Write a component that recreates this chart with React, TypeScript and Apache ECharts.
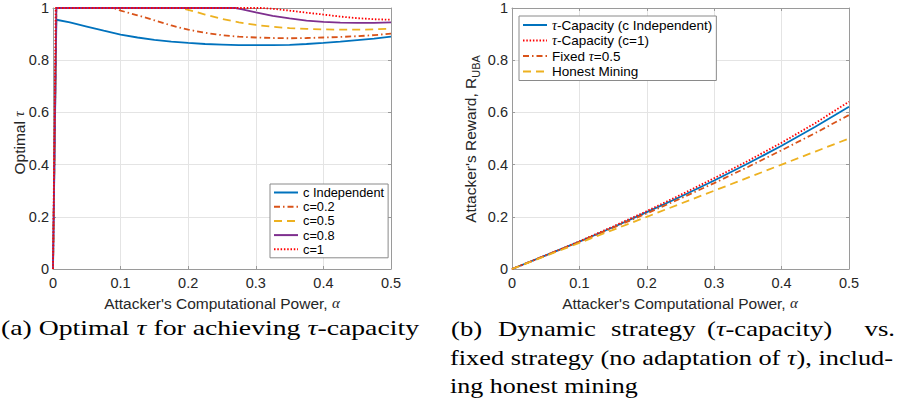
import React, { useEffect, useRef } from 'react';
import * as echarts from 'echarts';

// ---------- Left chart: optimal tau ----------
const indepX = [0, 0.005, 0.025, 0.05, 0.075, 0.1, 0.125, 0.15, 0.175, 0.2, 0.225, 0.25, 0.275, 0.3, 0.325, 0.35, 0.375, 0.4, 0.425, 0.45, 0.475, 0.5];
const indepY = [0, 0.955, 0.945, 0.929, 0.913, 0.898, 0.887, 0.878, 0.871, 0.866, 0.862, 0.86, 0.858, 0.858, 0.858, 0.859, 0.862, 0.866, 0.871, 0.877, 0.883, 0.89];

const c02X = [0, 0.005, 0.09, 0.1, 0.125, 0.15, 0.175, 0.2, 0.225, 0.25, 0.275, 0.3, 0.325, 0.35, 0.375, 0.4, 0.425, 0.45, 0.475, 0.5];
const c02Y = [0, 1, 1, 0.99, 0.972, 0.953, 0.933, 0.917, 0.905, 0.896, 0.89, 0.887, 0.885, 0.884, 0.885, 0.887, 0.889, 0.892, 0.896, 0.902];

const c05X = [0, 0.005, 0.19, 0.2, 0.225, 0.25, 0.275, 0.3, 0.325, 0.35, 0.375, 0.4, 0.425, 0.45, 0.475, 0.5];
const c05Y = [0, 1, 1, 0.993, 0.975, 0.958, 0.945, 0.935, 0.928, 0.923, 0.92, 0.918, 0.917, 0.917, 0.918, 0.921];

const c08X = [0, 0.005, 0.27, 0.28, 0.3, 0.325, 0.35, 0.375, 0.4, 0.425, 0.45, 0.475, 0.5];
const c08Y = [0, 1, 1, 0.995, 0.983, 0.97, 0.96, 0.952, 0.947, 0.944, 0.943, 0.943, 0.945];

const c1X = [0, 0.004, 0.31, 0.325, 0.35, 0.375, 0.4, 0.425, 0.45, 0.475, 0.5];
const c1Y = [0, 1, 1, 0.997, 0.99, 0.982, 0.975, 0.967, 0.961, 0.957, 0.955];

const leftNames = ['c Independent', 'c=0.2', 'c=0.5', 'c=0.8', 'c=1'];

// ---------- Right chart: attacker's reward ----------
const alphaR = [0, 0.05, 0.1, 0.15, 0.2, 0.25, 0.3, 0.35, 0.4, 0.45, 0.5];
const rewardCapInd = [0, 0.052, 0.105, 0.16, 0.218, 0.277, 0.339, 0.404, 0.472, 0.545, 0.622];
const rewardCapC1 = [0, 0.052, 0.106, 0.163, 0.222, 0.284, 0.348, 0.414, 0.484, 0.559, 0.641];
const rewardFixed = [0, 0.052, 0.104, 0.158, 0.213, 0.27, 0.329, 0.391, 0.455, 0.521, 0.59];
const rewardHonest = [0, 0.05, 0.1, 0.15, 0.2, 0.25, 0.3, 0.35, 0.4, 0.45, 0.5];

const rightNames = ['τ-Capacity (c Independent)', 'τ-Capacity (c=1)', 'Fixed τ=0.5', 'Honest Mining'];

const BLUE = '#0072BD';
const ORANGE = '#D95319';
const YELLOW = '#EDB120';
const PURPLE = '#7E2F8E';
const RED = '#FF0000';

const SANS = 'Liberation Sans, Arial, Helvetica, sans-serif';
const SERIF = 'Liberation Serif, Times New Roman, serif';
const AXIS_COLOR = '#9a9a9a';
const TEXT_COLOR = '#262626';
const CAP_SIZE = 22;

const pairs = (xs: number[], ys: number[]) => xs.map((x, i) => [x, ys[i]]);

const fmt = (v: number) => (v === 0 ? '0' : v === 1 ? '1' : v.toFixed(1));

let measureCtx: CanvasRenderingContext2D | null = null;
function measure(segs: string[]) {
  if (!measureCtx) measureCtx = document.createElement('canvas').getContext('2d');
  let w = 0;
  for (const s of segs) {
    const italic = s.startsWith('{i|');
    const t = italic ? s.slice(3, -1) : s;
    measureCtx!.font = `${italic ? 'italic ' : ''}${CAP_SIZE}px ${SERIF}`;
    w += measureCtx!.measureText(t).width;
  }
  return w;
}

function makeAxes(gridIndex: number) {
  const common = {
    gridIndex,
    type: 'value' as const,
    axisLine: { show: true, onZero: false, lineStyle: { color: AXIS_COLOR, width: 1 } },
    axisTick: { show: true, inside: true, length: 3, lineStyle: { color: AXIS_COLOR } },
  };
  const xBottom = {
    ...common,
    position: 'bottom',
    min: 0, max: 0.5, interval: 0.1,
    axisLabel: { show: true, margin: 6, color: TEXT_COLOR, fontFamily: SANS, fontSize: 14.5, formatter: fmt },
    splitLine: { show: true, lineStyle: { color: '#e4e4e4', width: 1 } },
  };
  const xTop = {
    ...common,
    position: 'top',
    min: 0, max: 0.5, interval: 0.1,
    axisLabel: { show: false },
    splitLine: { show: false },
  };
  const yLeft = {
    ...common,
    position: 'left',
    min: 0, max: 1, interval: 0.2,
    axisLabel: { show: true, margin: 4, color: TEXT_COLOR, fontFamily: SANS, fontSize: 14.5, formatter: fmt },
    splitLine: { show: true, lineStyle: { color: '#e4e4e4', width: 1 } },
  };
  const yRight = {
    ...common,
    position: 'right',
    min: 0, max: 1, interval: 0.2,
    axisLabel: { show: false },
    splitLine: { show: false },
  };
  return { x: [xBottom, xTop], y: [yLeft, yRight] };
}

function lineSeries(name: string, data: number[][], color: string, type: any, xi: number, yi: number, width = 1.8) {
  return {
    type: 'line',
    name,
    data,
    xAxisIndex: xi,
    yAxisIndex: yi,
    showSymbol: false,
    symbol: 'none',
    clip: false,
    lineStyle: { color, width, type },
    itemStyle: { color },
    emphasis: { disabled: true },
  };
}

const DASHDOT = [6, 3, 1.5, 3];
const DASHED = [8, 5];
const DOTTED = [1.5, 1.8];

export default function App() {
  const ref = useRef<HTMLDivElement>(null);

  useEffect(() => {
    if (!ref.current) return;
    const chart = echarts.init(ref.current, undefined, { renderer: 'svg' });
    const a0 = makeAxes(0);
    const a1 = makeAxes(1);

    const legendText = (size: number) => ({
      fontFamily: SANS,
      fontSize: size,
      color: '#000',
      rich: {
        i: { fontFamily: SERIF, fontStyle: 'italic', fontSize: size + 0.5, color: '#000' },
      },
    });

    const italicRich = (size: number, color = '#000') => ({
      i: { fontFamily: SERIF, fontStyle: 'italic', fontSize: size, color },
    });

    // caption lines (segments; {i|..} = italic math)
    const capA = ['(a) Optimal ', '{i|τ}', ' for achieving ', '{i|τ}', '-capacity'];
    const capB2 = ['fixed strategy (no adaptation of ', '{i|τ}', '), includ-'];
    const capB3 = ['ing honest mining'];
    const sA = 418 / measure(capA);
    const sB2 = 443 / measure(capB2);
    const sB3 = 188 / measure(capB3);
    const sW = (sA + sB2 + sB3) / 3;

    const capText = (x: number, y: number, segs: string[], scale: number, align = 'left') => ({
      type: 'text', x, y, scaleX: scale,
      style: {
        text: segs.join(''), fontFamily: SERIF, fontSize: CAP_SIZE, fill: '#000',
        align, verticalAlign: 'middle', rich: italicRich(CAP_SIZE),
      },
    });

    const L1 = 328, L2 = 357, L3 = 386;

    const option: any = {
      animation: false,
      backgroundColor: '#ffffff',
      grid: [
        { left: 53, right: 898 - 391, top: 8, bottom: 407 - 269, containLabel: false },
        { left: 512, right: 898 - 849, top: 8, bottom: 407 - 269, containLabel: false },
      ],
      xAxis: [...a0.x, ...a1.x],
      yAxis: [...a0.y, ...a1.y],
      legend: [
        {
          data: leftNames,
          orient: 'vertical',
          left: 270,
          top: 184,
          itemWidth: 24,
          itemHeight: 14,
          itemGap: 1.2,
          padding: [2, 4, 2, 3],
          borderColor: '#8a8a8a',
          borderWidth: 1,
          backgroundColor: '#fff',
          itemStyle: { opacity: 0 },
          textStyle: legendText(12.8),
          selectedMode: false,
        },
        {
          data: rightNames,
          orient: 'vertical',
          left: 519,
          top: 16,
          itemWidth: 24,
          itemHeight: 14,
          itemGap: 1.5,
          padding: [2, 4, 2, 3],
          borderColor: '#8a8a8a',
          borderWidth: 1,
          backgroundColor: '#fff',
          itemStyle: { opacity: 0 },
          textStyle: legendText(13.5),
          selectedMode: false,
          formatter: (name: string) => name.replace('τ', '{i|τ}'),
        },
      ],
      series: [
        lineSeries(leftNames[0], pairs(indepX, indepY), BLUE, 'solid', 0, 0),
        lineSeries(leftNames[1], pairs(c02X, c02Y), ORANGE, DASHDOT, 0, 0),
        lineSeries(leftNames[2], pairs(c05X, c05Y), YELLOW, DASHED, 0, 0),
        lineSeries(leftNames[3], pairs(c08X, c08Y), PURPLE, 'solid', 0, 0),
        lineSeries(leftNames[4], pairs(c1X, c1Y), RED, DOTTED, 0, 0),
        lineSeries(rightNames[0], pairs(alphaR, rewardCapInd), BLUE, 'solid', 2, 2),
        lineSeries(rightNames[1], pairs(alphaR, rewardCapC1), RED, DOTTED, 2, 2),
        lineSeries(rightNames[2], pairs(alphaR, rewardFixed), ORANGE, DASHDOT, 2, 2),
        lineSeries(rightNames[3], pairs(alphaR, rewardHonest), YELLOW, DASHED, 2, 2),
      ],
      graphic: [
        // y-axis titles
        {
          type: 'text', x: 19, y: 143, rotation: Math.PI / 2,
          style: {
            text: 'Optimal {i|τ}', fontFamily: SANS, fontSize: 15.5, fill: TEXT_COLOR,
            align: 'center', verticalAlign: 'middle', rich: italicRich(15, TEXT_COLOR),
          },
        },
        {
          type: 'text', x: 470, y: 139, rotation: Math.PI / 2,
          style: {
            text: "{a|Attacker's Reward, R}{s|UBA}", fill: TEXT_COLOR,
            align: 'center', verticalAlign: 'middle',
            rich: {
              a: { fontFamily: SANS, fontSize: 15.5, color: TEXT_COLOR, lineHeight: 22, verticalAlign: 'middle' },
              s: { fontFamily: SANS, fontSize: 11, color: TEXT_COLOR, lineHeight: 11, verticalAlign: 'bottom' },
            },
          },
        },
        // x-axis titles
        {
          type: 'text', x: 222, y: 303,
          style: {
            text: "Attacker's Computational Power, {i|α}", fontFamily: SANS, fontSize: 15.5, fill: TEXT_COLOR,
            align: 'center', verticalAlign: 'middle', rich: italicRich(15, TEXT_COLOR),
          },
        },
        {
          type: 'text', x: 680, y: 303,
          style: {
            text: "Attacker's Computational Power, {i|α}", fontFamily: SANS, fontSize: 15.5, fill: TEXT_COLOR,
            align: 'center', verticalAlign: 'middle', rich: italicRich(15, TEXT_COLOR),
          },
        },
        // caption (a)
        capText(1, L1, capA, sA),
        // caption (b) line 1 (justified words)
        capText(451, L1, ['(b)'], sW),
        capText(498, L1, ['Dynamic'], sW),
        capText(611, L1, ['strategy'], sW),
        capText(707, L1, ['(', '{i|τ}', '-capacity)'], sW),
        capText(895, L1, ['vs.'], sW, 'right'),
        // caption (b) lines 2, 3
        capText(450, L2, capB2, sB2),
        capText(450, L3, capB3, sB3),
      ],
    };

    chart.setOption(option);
    return () => chart.dispose();
  }, []);

  return (
    <div
      ref={ref}
      style={{ position: 'fixed', left: 0, top: 0, width: 898, height: 407, background: '#fff' }}
    />
  );
}
